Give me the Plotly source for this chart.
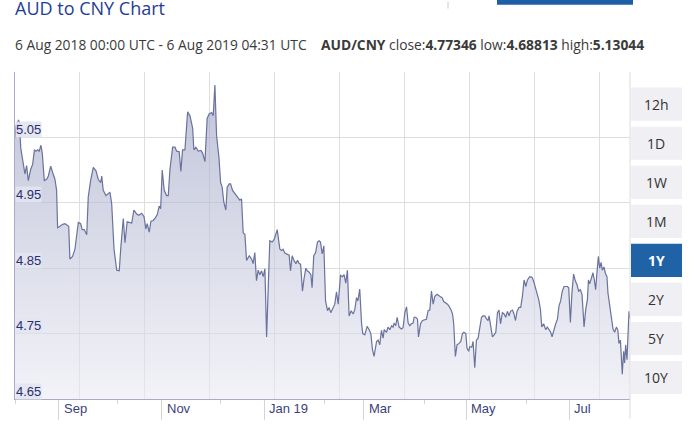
import plotly.graph_objects as go
import pandas as pd

# ---------------- data ----------------
start = pd.Timestamp("2018-08-06 00:00")
end = pd.Timestamp("2019-08-06 04:31")

day_offsets = [
    0, 0.6, 2.0, 2.6, 3.4, 4.9, 5.9, 6.9, 7.9, 9.3, 10.5, 11.5, 12.5, 13.5, 14.4, 15.4, 16.2,
    17.4, 18.8, 19.8, 21.2, 22.4, 23.7, 24.7, 25.3, 26.7, 28.3, 29.7, 31.0, 31.9, 32.6, 34.2,
    35.6, 36.6, 37.6, 39.0, 39.9, 41.1, 42.6, 43.5, 44.9, 46.5, 48.1, 49.4, 50.9, 51.5, 52.4,
    54.0, 55.4, 56.4, 57.4, 58.8, 60.4, 61.9, 62.9, 64.3, 65.3, 66.6, 67.8, 69.3, 70.6, 72.2,
    73.6, 75.2, 76.6, 77.7, 78.5, 79.7, 80.7, 82.1, 83.3, 84.5, 85.6, 86.5, 87.4, 88.6, 90.0,
    91.0, 92.0, 93.6, 95.0, 96.0, 97.5, 98.5, 99.5, 100.9, 102.5, 103.9, 105.5, 106.2, 107.4,
    108.8, 110.4, 111.4, 112.8, 114.1, 115.3, 116.7, 117.7, 118.7, 119.7, 121.1, 122.1, 123.0,
    124.0, 125.2, 126.0, 127.2, 128.0, 129.2, 130.6, 131.9, 133.5, 134.5, 135.5, 136.5, 137.5,
    139.1, 140.5, 141.4, 142.4, 143.4, 144.4, 145.4, 146.4, 147.4, 148.4, 149.4, 150.3, 151.3,
    152.7, 153.9, 155.7, 157.3, 158.3, 159.2, 160.2, 161.6, 162.8, 163.6, 164.6, 165.6, 166.8,
    167.8, 168.7, 169.6, 170.7, 171.7, 172.7, 173.5, 174.7, 175.7, 176.4, 177.4, 178.5, 179.6,
    180.6, 181.4, 182.4, 183.4, 184.4, 185.6, 186.5, 187.5, 188.9, 189.9, 190.9, 191.9, 193.3,
    194.5, 195.4, 196.4, 197.4, 198.4, 199.6, 200.8, 201.8, 202.8, 203.6, 204.7, 205.8, 206.5,
    207.7, 209.1, 210.3, 211.3, 212.3, 213.2, 214.7, 215.6, 216.6, 217.6, 218.6, 219.2, 220.6,
    221.5, 222.6, 223.6, 224.5, 225.1, 226.1, 226.9, 228.1, 229.5, 230.4, 231.5, 232.5, 233.4,
    234.4, 235.4, 236.4, 237.0, 238.0, 239.0, 239.6, 240.8, 242.0, 243.3, 244.3, 245.3, 246.3,
    247.3, 248.3, 249.3, 250.6, 252.2, 253.6, 254.6, 255.8, 256.8, 257.7, 258.8, 259.8, 260.5,
    261.5, 262.5, 263.7, 264.7, 265.7, 266.6, 267.7, 268.4, 269.4, 270.0, 271.2, 272.0, 273.0,
    274.0, 275.0, 276.0, 277.0, 277.9, 278.9, 279.9, 280.9, 281.5, 282.5, 283.5, 284.5, 285.5,
    286.5, 287.4, 288.3, 289.4, 290.4, 291.4, 292.4, 293.4, 294.2, 295.4, 296.3, 297.2, 298.1,
    299.3, 300.3, 301.3, 302.3, 303.3, 304.3, 305.6, 307.0, 308.0, 309.6, 311.0, 312.0, 312.8,
    313.9, 315.1, 316.1, 317.1, 318.1, 318.9, 319.9, 321.1, 322.1, 323.0, 324.0, 325.0, 326.0,
    327.0, 328.0, 328.8, 329.8, 330.7, 331.7, 332.8, 333.7, 334.7, 335.7, 336.7, 337.3, 337.9,
    338.9, 339.9, 340.5, 341.2, 342.3, 343.2, 344.0, 344.8, 345.6, 346.4, 347.2, 348.0, 348.8,
    349.7, 350.6, 351.5, 352.1, 353.1, 354.1, 355.1, 356.1, 357.1, 358.0, 358.6, 359.5, 360.1,
    360.6, 361.4, 362.0, 362.6, 363.4, 364.0, 364.6, 365.19,
]

rate = [
    5.050, 5.068, 5.076, 5.074, 5.034, 5.009, 4.994, 5.007, 4.984, 5.001, 5.009, 5.031, 5.029,
    5.031, 5.029, 5.038, 5.026, 4.984, 4.986, 4.991, 5.006, 4.996, 4.986, 4.969, 4.912, 4.914,
    4.917, 4.918, 4.916, 4.914, 4.864, 4.868, 4.879, 4.899, 4.920, 4.918, 4.909, 4.909, 4.901,
    4.959, 4.984, 5.004, 4.999, 4.986, 4.981, 4.991, 4.969, 4.961, 4.964, 4.966, 4.949, 4.879,
    4.847, 4.846, 4.884, 4.926, 4.889, 4.921, 4.920, 4.919, 4.939, 4.933, 4.931, 4.934, 4.929,
    4.910, 4.918, 4.905, 4.922, 4.923, 4.927, 4.932, 4.945, 4.941, 5.000, 4.969, 4.961, 4.961,
    5.001, 5.035, 5.035, 5.029, 5.028, 4.998, 5.031, 5.031, 5.089, 5.083, 5.064, 5.031, 5.035,
    5.029, 5.030, 5.026, 5.013, 5.079, 5.086, 5.088, 5.083, 5.130, 5.053, 5.019, 4.981, 4.974,
    4.951, 4.939, 4.974, 4.979, 4.979, 4.969, 4.964, 4.960, 4.954, 4.956, 4.904, 4.902, 4.862,
    4.869, 4.864, 4.857, 4.874, 4.831, 4.847, 4.840, 4.846, 4.837, 4.849, 4.745, 4.820, 4.892,
    4.890, 4.894, 4.909, 4.879, 4.877, 4.879, 4.873, 4.872, 4.870, 4.846, 4.869, 4.862, 4.857,
    4.862, 4.857, 4.856, 4.815, 4.835, 4.850, 4.846, 4.844, 4.840, 4.820, 4.869, 4.874, 4.890,
    4.892, 4.890, 4.872, 4.884, 4.800, 4.785, 4.790, 4.782, 4.791, 4.795, 4.814, 4.795, 4.839,
    4.837, 4.840, 4.827, 4.847, 4.777, 4.785, 4.780, 4.787, 4.805, 4.800, 4.818, 4.765, 4.750,
    4.748, 4.761, 4.756, 4.750, 4.725, 4.715, 4.738, 4.740, 4.733, 4.755, 4.743, 4.756, 4.752,
    4.760, 4.756, 4.762, 4.760, 4.766, 4.762, 4.775, 4.760, 4.757, 4.759, 4.782, 4.791, 4.767,
    4.762, 4.765, 4.766, 4.775, 4.775, 4.772, 4.745, 4.765, 4.770, 4.771, 4.772, 4.785, 4.786,
    4.815, 4.795, 4.807, 4.810, 4.807, 4.805, 4.799, 4.797, 4.795, 4.792, 4.787, 4.780, 4.765,
    4.715, 4.733, 4.735, 4.738, 4.750, 4.752, 4.750, 4.728, 4.723, 4.730, 4.729, 4.738, 4.698,
    4.740, 4.743, 4.762, 4.775, 4.777, 4.777, 4.773, 4.770, 4.777, 4.760, 4.745, 4.748, 4.752,
    4.782, 4.786, 4.765, 4.782, 4.780, 4.775, 4.784, 4.777, 4.784, 4.786, 4.780, 4.770, 4.784,
    4.790, 4.790, 4.807, 4.832, 4.822, 4.832, 4.837, 4.836, 4.830, 4.815, 4.802, 4.787, 4.760,
    4.765, 4.756, 4.760, 4.756, 4.752, 4.745, 4.756, 4.765, 4.772, 4.792, 4.800, 4.815, 4.822,
    4.822, 4.822, 4.820, 4.767, 4.812, 4.841, 4.830, 4.825, 4.815, 4.817, 4.810, 4.786, 4.760,
    4.787, 4.802, 4.832, 4.826, 4.835, 4.843, 4.832, 4.817, 4.844, 4.868, 4.850, 4.859, 4.847,
    4.852, 4.842, 4.837, 4.812, 4.795, 4.777, 4.757, 4.752, 4.760, 4.755, 4.735, 4.740, 4.715,
    4.688, 4.723, 4.705, 4.733, 4.710, 4.748, 4.784, 4.773,
]

y_ticks = [4.65, 4.75, 4.85, 4.95, 5.05]
y_tick_labels = ["4.65", "4.75", "4.85", "4.95", "5.05"]

month_ticks = ["2018-09-01", "2018-11-01", "2019-01-01", "2019-03-01", "2019-05-01", "2019-07-01"]
month_labels = ["Sep", "Nov", "Jan 19", "Mar", "May", "Jul"]
minor_ticks = ["2018-08-06", "2018-10-06", "2018-12-06", "2019-02-06", "2019-04-06", "2019-06-06"]

range_buttons = ["12h", "1D", "1W", "1M", "1Y", "2Y", "5Y", "10Y"]
selected_button = "1Y"

title_text = "AUD to CNY Chart"
period_text = "6 Aug 2018 00:00 UTC - 6 Aug 2019 04:31 UTC"
stats_text = "<b>AUD/CNY</b> close:<b>4.77346</b> low:<b>4.68813</b> high:<b>5.13044</b>"

# ---------------- figure ----------------
W, H = 696, 431
ML, MR, MT, MB = 15, 66, 72, 24
PW, PH = W - ML - MR, H - MT - MB


def px_x(p):  # pixel -> paper x
    return (p - ML) / PW


def px_y(p):  # pixel -> paper y
    return (H - MB - p) / PH


dates = start + pd.to_timedelta(day_offsets, unit="D")

fig = go.Figure()
fig.add_trace(go.Scatter(
    x=dates, y=rate, mode="lines",
    line=dict(color="#6a729d", width=1.2),
    fill="tozeroy",
    fillgradient=dict(type="vertical",
                      colorscale=[[0, "rgba(236,236,244,0.6)"], [1, "rgba(150,156,192,0.6)"]],
                      start=4.65, stop=5.14),
    hoverinfo="skip", showlegend=False,
))
# helper trace for the pixel-regular vertical grid axis
fig.add_trace(go.Scatter(x=[0, 1], y=[None, None], xaxis="x2", mode="lines",
                         showlegend=False, hoverinfo="skip"))

grid_col = "#dedede"
fig.update_layout(
    width=W, height=H,
    margin=dict(l=ML, r=MR, t=MT, b=MB),
    paper_bgcolor="white", plot_bgcolor="white",
    showlegend=False,
    xaxis=dict(
        range=[start, end], showgrid=False, zeroline=False,
        showline=True, linecolor="#a7aacb", linewidth=1,
        tickmode="array", tickvals=month_ticks, ticks="outside", ticklen=20,
        tickcolor="#d2d2da", tickwidth=1, showticklabels=False,
        minor=dict(tickmode="array", tickvals=minor_ticks, ticks="outside", ticklen=4,
                   tickcolor="#d2d2da", showgrid=False),
    ),
    xaxis2=dict(
        overlaying="x", range=[0, 1], tickmode="linear",
        tick0=(79.3 - ML) / PW, dtick=65 / PW,
        showgrid=True, gridcolor=grid_col, gridwidth=1,
        showticklabels=False, ticks="", zeroline=False, showline=False,
    ),
    yaxis=dict(
        range=[4.65, 5.15], tickmode="linear", tick0=4.65, dtick=0.1,
        showgrid=True, gridcolor=grid_col, gridwidth=1, zeroline=False,
        showline=True, linecolor="#a7aacb", linewidth=1,
        showticklabels=False, ticks="",
    ),
)

annotations = []
shapes = []

# title + subtitle
annotations.append(dict(text=title_text, xref="paper", yref="paper",
                        x=px_x(13), y=px_y(6), xanchor="left", yanchor="middle",
                        showarrow=False, font=dict(family="Open Sans", size=18, color="#1f3d96")))
annotations.append(dict(text=period_text, xref="paper", yref="paper",
                        x=px_x(13), y=px_y(44), xanchor="left", yanchor="middle",
                        showarrow=False, font=dict(family="Open Sans", size=13.8, color="#3a3a3a")))
annotations.append(dict(text=stats_text, xref="paper", yref="paper",
                        x=px_x(319), y=px_y(44), xanchor="left", yanchor="middle",
                        showarrow=False, font=dict(family="Open Sans", size=13.8, color="#3a3a3a")))

# top-right header fragments
shapes.append(dict(type="rect", xref="paper", yref="paper",
                   x0=px_x(497), x1=px_x(633), y0=px_y(3), y1=px_y(-6),
                   fillcolor="#1d5fa5", line=dict(width=0)))
shapes.append(dict(type="line", xref="paper", yref="paper",
                   x0=px_x(448), x1=px_x(448), y0=px_y(7), y1=px_y(0),
                   line=dict(color="#cccccc", width=1)))

# y labels inside plot with soft boxes, sitting just above their grid line
for v, lab in zip(y_ticks, y_tick_labels):
    annotations.append(dict(text=lab, xref="paper", yref="y", x=0.0, y=v,
                            xanchor="left", yanchor="middle", showarrow=False,
                            bgcolor="rgba(226,228,240,0.9)", borderpad=0, yshift=8,
                            font=dict(family="Liberation Sans", size=13, color="#2b2f70")))

# month labels right of their ticks
for d, lab in zip(month_ticks, month_labels):
    annotations.append(dict(text=lab, xref="x", yref="paper", x=d, y=px_y(417),
                            xanchor="left", yanchor="middle", xshift=3, showarrow=False,
                            font=dict(family="Liberation Sans", size=13, color="#3b3f7c")))

# right edge line
shapes.append(dict(type="line", xref="paper", yref="paper", x0=1, x1=1,
                   y0=px_y(427), y1=1, line=dict(color="#dcdcdc", width=1)))

# range buttons
for i, lab in enumerate(range_buttons):
    top = 88 + 40 * i
    sel = lab == selected_button
    shapes.append(dict(type="rect", xref="paper", yref="paper",
                       x0=px_x(631), x1=px_x(682), y0=px_y(top + 34), y1=px_y(top),
                       fillcolor="#1f63a6" if sel else "#efeff4", line=dict(width=0)))
    annotations.append(dict(text=f"<b>{lab}</b>" if sel else lab, xref="paper", yref="paper",
                            x=px_x(656.5), y=px_y(top + 17), xanchor="center", yanchor="middle",
                            showarrow=False,
                            font=dict(family="Open Sans", size=14,
                                      color="white" if sel else "#333333")))

fig.update_layout(annotations=annotations, shapes=shapes)
fig.write_html(
    "out.html",
    config={"displayModeBar": False},
    post_script="document.body.style.margin='0';document.body.style.overflow='hidden';",
)
